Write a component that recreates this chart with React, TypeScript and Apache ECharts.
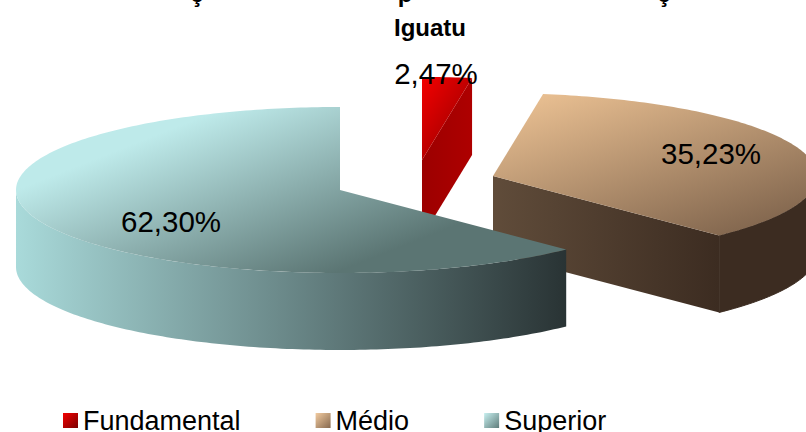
import React, { useEffect, useRef } from "react";
import * as echarts from "echarts";

const categories = ["Fundamental", "Médio", "Superior"];
const values = [2.47, 35.23, 62.3];
const titleText = "Iguatu";

// presentation constants (not data)
const RX = 324;
const RY = 83;
const DEPTH = 77;
const centers = [
  [422, 160],
  [493, 176],
  [340, 190],
];
const labelPos = [
  [436, 73],
  [711, 153],
  [171, 221],
];
const topStops = [
  ["#F40000", "#8E0000"],
  ["#EBC193", "#7D624B"],
  ["#BEEAEA", "#5B7573"],
];
const topDir = [
  [0, 0, 0.9, 1],
  [0.1, 0, 0.85, 1],
  [0.242, 0.185, 0.848, 0.649],
];
const wallStops = [
  ["#9C0000", "#AE0000"],
  ["#604C3A", "#3C2C21"],
  ["#A9DADA", "#293334"],
];
const legendStops = [
  ["#F40000", "#7A0000"],
  ["#F2CBA0", "#86694F"],
  ["#C8F0F0", "#5F7C7A"],
];

const total = values.reduce((a, b) => a + b, 0);

function grad(x1: number, y1: number, x2: number, y2: number, c: string[]) {
  return new echarts.graphic.LinearGradient(x1, y1, x2, y2, [
    { offset: 0, color: c[0] },
    { offset: 1, color: c[1] },
  ]);
}

function sliceRenderer(idx: number) {
  return (_params: any, api: any) => {
    const before = values.slice(0, idx).reduce((a, b) => a + b, 0);
    const start = (before / total) * 360;
    const end = start + (api.value(0) / total) * 360;
    const [cx, cy] = centers[idx];
    const pt = (deg: number, dy = 0) => {
      const r = (deg * Math.PI) / 180;
      return [cx + RX * Math.sin(r), cy - RY * Math.cos(r) + dy];
    };
    const arc = (a: number, b: number, dy = 0) => {
      const n = Math.max(2, Math.ceil(Math.abs(b - a)));
      const out: number[][] = [];
      for (let i = 0; i <= n; i++) out.push(pt(a + ((b - a) * i) / n, dy));
      return out;
    };
    const children: any[] = [];
    const wallFill = grad(0, 0, 1, 0, wallStops[idx]);
    const a0 = Math.max(start, 90);
    const a1 = Math.min(end, 270);
    if (a1 > a0) {
      const outer = [...arc(a0, a1), ...arc(a1, a0, DEPTH)];
      const dark = wallStops[idx][1];
      children.push({
        type: "polygon",
        shape: { points: outer },
        style:
          idx === 2
            ? { fill: wallFill }
            : { fill: dark, stroke: dark, lineWidth: 1 },
      });
    }
    const cutWall = (deg: number) => {
      const p = pt(deg);
      const pts = [
        [cx, cy],
        p,
        [p[0], p[1] + DEPTH],
        [cx, cy + DEPTH],
      ];
      children.push({ type: "polygon", shape: { points: pts }, style: { fill: wallFill } });
    };
    if (end < 180) cutWall(end);
    if (start > 180) cutWall(start);
    const d = topDir[idx];
    children.push({
      type: "polygon",
      shape: { points: [[cx, cy], ...arc(start, end)] },
      style: { fill: grad(d[0], d[1], d[2], d[3], topStops[idx]) },
    });
    children.push({
      type: "text",
      style: {
        x: labelPos[idx][0],
        y: labelPos[idx][1],
        text: api.value(0).toFixed(2).replace(".", ",") + "%",
        fontFamily: "Liberation Sans",
        fontSize: 29.5,
        fill: "#000",
        align: "center",
        verticalAlign: "middle",
      },
    });
    return { type: "group", children };
  };
}

export default function App() {
  const ref = useRef<HTMLDivElement>(null);
  useEffect(() => {
    const chart = echarts.init(ref.current!, null, { renderer: "svg" });
    const fragment = (text: string, x: number, y: number) => ({
      type: "text",
      style: {
        text,
        x,
        y,
        fontFamily: "Liberation Sans",
        fontWeight: "bold",
        fontSize: 24,
        fill: "#000",
        align: "center",
        verticalAlign: "bottom",
      },
    });
    chart.setOption({
      animation: false,
      backgroundColor: "#fff",
      title: {
        text: titleText,
        left: 425,
        top: 10,
        textAlign: "center",
        textStyle: {
          fontFamily: "Liberation Sans",
          fontWeight: "bold",
          fontSize: 24,
          color: "#000",
        },
      },
      graphic: [fragment("ç", 197, 5), fragment("p", 405, 5), fragment("ç", 664, 5)],
      legend: {
        left: 58,
        top: 402,
        itemWidth: 15,
        itemHeight: 15,
        itemGap: 75,
        selectedMode: false,
        textStyle: { fontFamily: "Liberation Sans", fontSize: 27, color: "#000" },
        data: categories.map((name, i) => ({
          name,
          icon: "rect",
          itemStyle: { color: grad(0, 0, 1, 1, legendStops[i]) },
        })),
      },
      series: categories.map((name, i) => ({
        type: "custom",
        name,
        coordinateSystem: "none",
        data: [[values[i]]],
        itemStyle: { color: grad(0, 0, 1, 1, legendStops[i]) },
        renderItem: sliceRenderer(i),
      })),
    });
    return () => chart.dispose();
  }, []);
  return (
    <div
      ref={ref}
      style={{ position: "absolute", left: 0, top: 0, width: 806, height: 432 }}
    />
  );
}
